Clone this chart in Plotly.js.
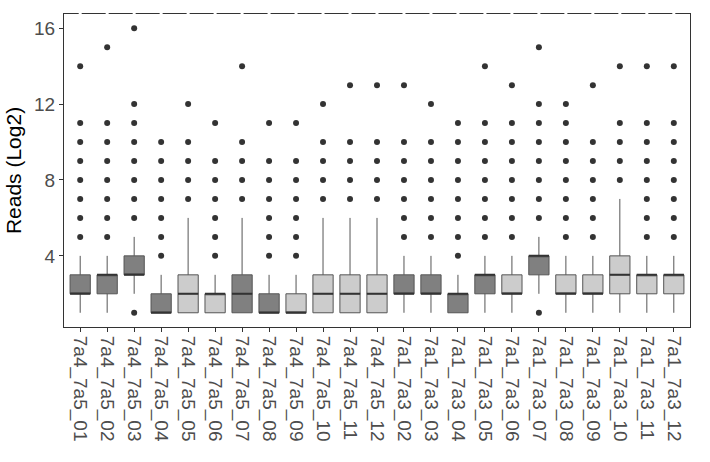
<!DOCTYPE html>
<html>
<head>
<meta charset="utf-8">
<script src="https://cdn.plot.ly/plotly-3.0.1.min.js"></script>
<style>html,body{margin:0;padding:0;background:#fff;}#chart{width:710px;height:462px;}</style>
</head>
<body>
<div id="chart"></div>
<script>
const categories = [
  "7a4_7a5_01","7a4_7a5_02","7a4_7a5_03","7a4_7a5_04","7a4_7a5_05","7a4_7a5_06",
  "7a4_7a5_07","7a4_7a5_08","7a4_7a5_09","7a4_7a5_10","7a4_7a5_11","7a4_7a5_12",
  "7a1_7a3_02","7a1_7a3_03","7a1_7a3_04","7a1_7a3_05","7a1_7a3_06","7a1_7a3_07",
  "7a1_7a3_08","7a1_7a3_09","7a1_7a3_10","7a1_7a3_11","7a1_7a3_12"
];
const shade = ["D","D","D","D","L","L","D","D","L","L","L","L",
               "D","D","D","D","L","D","L","L","L","L","L"];
const lowerWhisker = [1,1,2,1,1,1,1,1,1,1,1,1, 1,1,1,1,1,2,1,1,1,1,1];
const q1Values     = [2,2,3,1,1,1,1,1,1,1,1,1, 2,2,1,2,2,3,2,2,2,2,2];
const medianValues = [2,3,3,1,2,2,2,1,1,2,2,2, 2,2,2,3,2,4,2,2,3,3,3];
const q3Values     = [3,3,4,2,3,2,3,2,2,3,3,3, 3,3,2,3,3,4,3,3,4,3,3];
const upperWhisker = [4,4,5,3,6,3,6,3,3,6,6,6, 4,4,3,4,4,5,4,4,7,4,4];
const outlierValues = [
  [5,6,7,8,9,10,11,14],
  [5,6,7,8,9,10,11,15],
  [1,6,7,8,9,10,11,12,16],
  [4,5,6,7,8,9,10],
  [7,8,9,10,12],
  [4,5,6,7,8,9,11],
  [7,8,9,10,14],
  [4,5,6,7,8,9,11],
  [4,5,6,7,8,9,11],
  [7,8,9,10,12],
  [7,8,9,10,13],
  [7,8,9,10,13],
  [5,6,7,8,9,10,13],
  [5,6,7,8,9,10,12],
  [4,5,6,7,8,9,10,11],
  [5,6,7,8,9,10,11,14],
  [5,6,7,8,9,10,11,13],
  [1,6,7,8,9,10,11,12,15],
  [5,6,7,8,9,10,11,12],
  [5,6,7,8,9,10,13],
  [8,9,10,11,14],
  [5,6,7,8,9,10,11,14],
  [5,6,7,8,9,10,11,14]
];
const yTicks = [4, 8, 12, 16];
const fills = {D: "#808080", L: "#cccccc"};

function boxTrace(s) {
  const idx = categories.map((c, i) => i).filter(i => shade[i] === s);
  return {
    type: "box",
    x: idx.map(i => categories[i]),
    q1: idx.map(i => q1Values[i]),
    median: idx.map(i => medianValues[i]),
    q3: idx.map(i => q3Values[i]),
    lowerfence: idx.map(i => lowerWhisker[i]),
    upperfence: idx.map(i => upperWhisker[i]),
    boxpoints: false,
    width: 0.75,
    whiskerwidth: 0,
    fillcolor: fills[s],
    line: {color: "#555555", width: 1},
    showlegend: false,
    hoverinfo: "skip"
  };
}

// thick median bars (ggplot fatten) drawn as flat boxes at the median
const medianTrace = {
  type: "box",
  x: categories,
  q1: medianValues, median: medianValues, q3: medianValues,
  lowerfence: medianValues, upperfence: medianValues,
  boxpoints: false, width: 0.75, whiskerwidth: 0,
  fillcolor: "rgba(0,0,0,0)",
  line: {color: "#333333", width: 2},
  showlegend: false, hoverinfo: "skip"
};

const ox = [], oy = [];
outlierValues.forEach((arr, i) => arr.forEach(v => { ox.push(categories[i]); oy.push(v); }));

const traces = [
  boxTrace("D"),
  boxTrace("L"),
  medianTrace,
  {
    type: "scatter", mode: "markers", x: ox, y: oy,
    marker: {color: "#333333", size: 6},
    showlegend: false, hoverinfo: "skip"
  }
];

// small white gaps on the top border at each category position
const gapShapes = categories.map(c => ({
  type: "line", xref: "x", yref: "paper",
  x0: c, x1: c, y0: 0.992, y1: 1.008,
  line: {color: "#ffffff", width: 3}, layer: "above"
}));

const tickFont = {family: "Liberation Sans, Arial, sans-serif", size: 19, color: "#4d4d4d"};

const layout = {
  width: 710, height: 462,
  margin: {l: 64, r: 20, t: 14, b: 135},
  paper_bgcolor: "#ffffff", plot_bgcolor: "#ffffff",
  boxmode: "overlay",
  font: {family: "Liberation Sans, Arial, sans-serif"},
  shapes: gapShapes,
  xaxis: {
    type: "category", categoryorder: "array", categoryarray: categories,
    range: [-0.6, categories.length - 0.4],
    showline: true, linecolor: "#333333", linewidth: 1, mirror: true,
    ticks: "outside", ticklen: 4, tickcolor: "#333333", tickwidth: 1,
    tickangle: 90, tickfont: tickFont,
    showgrid: false, zeroline: false
  },
  yaxis: {
    range: [0.25, 16.75], tickvals: yTicks, ticktext: yTicks.map(String),
    showline: true, linecolor: "#333333", linewidth: 1, mirror: true,
    ticks: "outside", ticklen: 4, tickcolor: "#333333", tickwidth: 1,
    tickfont: tickFont, showgrid: false, zeroline: false,
    title: {text: "Reads (Log2)", font: {size: 21, color: "#000000"}, standoff: 6}
  }
};

Plotly.newPlot("chart", traces, layout, {displayModeBar: false, staticPlot: true});
</script>
</body>
</html>
